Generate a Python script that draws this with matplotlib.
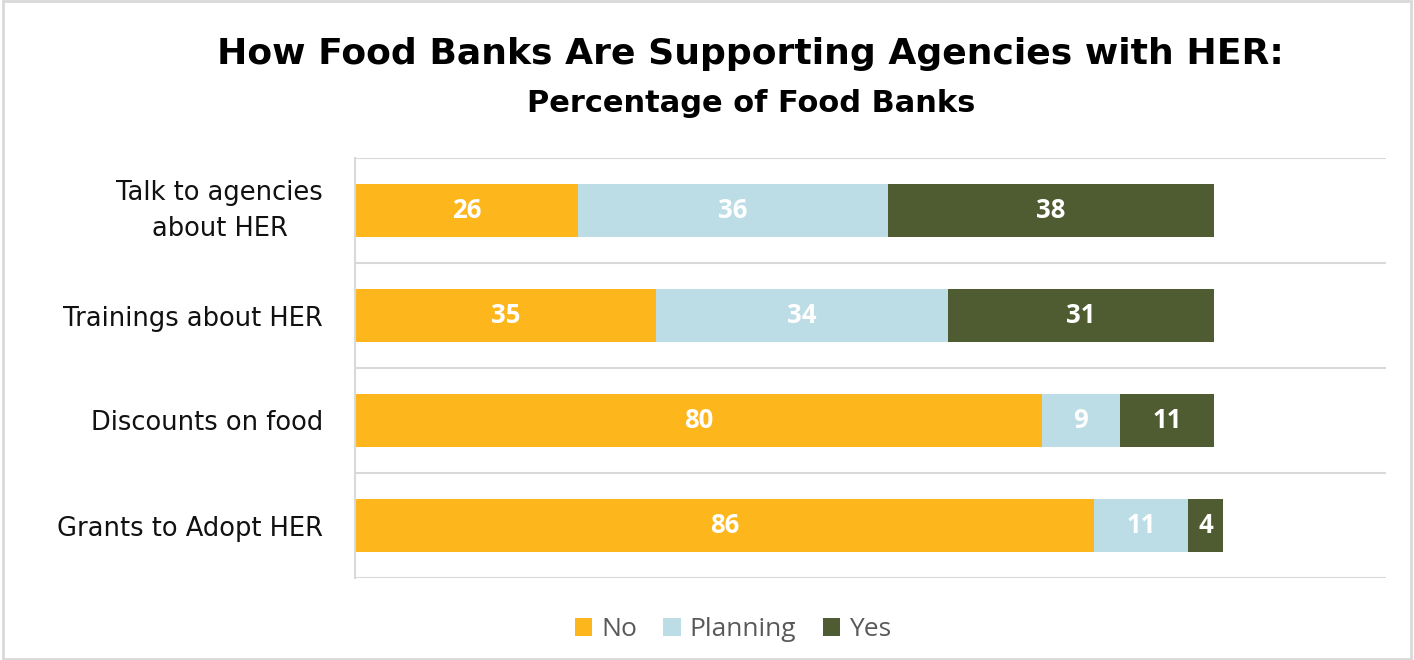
import numpy as np
import matplotlib.pyplot as plt
from matplotlib.patches import Rectangle

categories = ["Talk to agencies\nabout HER", "Trainings about HER",
              "Discounts on food", "Grants to Adopt HER"]
no = [26, 35, 80, 86]
planning = [36, 34, 9, 11]
yes = [38, 31, 11, 4]

series = [("No", no, "#FDB71C"), ("Planning", planning, "#BCDDE5"), ("Yes", yes, "#4F5B31")]

plt.rcParams['font.family'] = ['Open Sans', 'DejaVu Sans']

fig = plt.figure(figsize=(14.14, 6.6), dpi=100)
ax = fig.add_axes([355 / 1414, 1 - 578 / 660, (1386 - 355) / 1414, (578 - 158) / 660])

y = np.arange(len(categories))
left = np.zeros(len(categories))
for name, vals, color in series:
    bars = ax.barh(y, vals, left=left, height=0.5, color=color, label=name)
    for b, v in zip(bars, vals):
        ax.text(b.get_x() + b.get_width() / 2, b.get_y() + b.get_height() / 2, str(v),
                ha='center', va='center', color='white', fontsize=18.5, fontweight='bold')
    left += np.array(vals)

ax.set_xlim(0, 120)
ax.set_ylim(len(categories) - 0.5, -0.5)
ax.set_yticks(y)
ax.set_yticklabels(categories, fontsize=18.5, color='#111111', family='DejaVu Sans',
                   linespacing=1.5, multialignment='center')
# two-line label sits centred on its bar
ax.get_yticklabels()[0].set_verticalalignment('center')
ax.tick_params(axis='y', length=0, pad=23)
ax.set_xticks([])

# separators between categories
ax.set_yticks(np.arange(-0.5, len(categories)), minor=True)
ax.tick_params(axis='y', which='minor', length=0)
ax.grid(axis='y', which='minor', color='#D9D9D9', linewidth=1.5)
ax.set_axisbelow(True)

for s in ['top', 'right', 'bottom']:
    ax.spines[s].set_visible(False)
ax.spines['left'].set_color('#D9D9D9')
ax.spines['left'].set_linewidth(1.5)

fig.text(750 / 1414, 1 - 54 / 660, "How Food Banks Are Supporting Agencies with HER:",
         ha='center', va='center', fontsize=26, fontweight='bold', color='black',
         family='DejaVu Sans')
fig.text(751 / 1414, 1 - 104 / 660, "Percentage of Food Banks",
         ha='center', va='center', fontsize=22, fontweight='bold', color='black',
         family='DejaVu Sans')

fig.legend(loc='center', bbox_to_anchor=(733 / 1414, 1 - 630 / 660), ncol=3, frameon=False,
           fontsize=19, labelcolor='#595959', handlelength=0.65, handleheight=0.65,
           handletextpad=0.35, columnspacing=1.0)

fig.patches.append(Rectangle((0.002, 0.002), 0.996, 0.996, transform=fig.transFigure,
                             fill=False, edgecolor='#D9D9D9', linewidth=2))

fig.savefig("out.png", dpi=100)
